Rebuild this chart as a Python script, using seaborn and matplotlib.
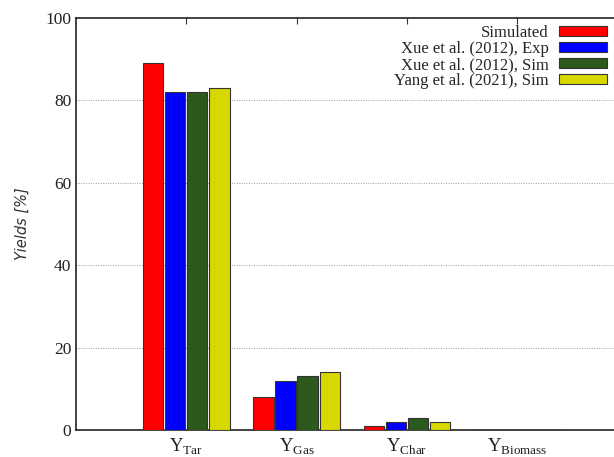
import matplotlib
matplotlib.use("Agg")
import matplotlib.pyplot as plt
import seaborn as sns
import pandas as pd

categories = [r"$\mathrm{Y}_{\mathrm{Tar}}$", r"$\mathrm{Y}_{\mathrm{Gas}}$",
              r"$\mathrm{Y}_{\mathrm{Char}}$", r"$\mathrm{Y}_{\mathrm{Biomass}}$"]
series = ["Simulated", "Xue et al. (2012), Exp", "Xue et al. (2012), Sim", "Yang et al. (2021), Sim"]
simulated = [89, 8, 1, 0]
xue_exp = [82, 12, 2, 0]
xue_sim = [82, 13, 3, 0]
yang_sim = [83, 14, 2, 0]
colors = ["#ff0000", "#0000ff", "#2b5a1c", "#d8d800"]

rows = []
for name, vals in zip(series, [simulated, xue_exp, xue_sim, yang_sim]):
    for cat, v in zip(categories, vals):
        rows.append({"cat": cat, "series": name, "value": v})
df = pd.DataFrame(rows)

sns.set_style("white")
plt.rcParams["font.family"] = ["Liberation Serif", "DejaVu Serif"]
plt.rcParams["mathtext.fontset"] = "custom"
plt.rcParams["mathtext.rm"] = "Liberation Serif"

fig = plt.figure(figsize=(6.14, 4.57), dpi=100)
ax = fig.add_axes([76 / 614, 27 / 457, 5 * 110.3 / 614, 412 / 457])

sns.barplot(data=df, x="cat", y="value", hue="series", palette=colors,
            order=categories, hue_order=series, width=0.8, gap=0.08,
            saturation=1, edgecolor="#333333", linewidth=0.8, ax=ax,
            legend=True, zorder=3)

ax.set_xlim(-1, 4)
ax.set_ylim(0, 100)
ax.set_yticks([0, 20, 40, 60, 80, 100])
for y in [20, 40, 60, 80]:
    ax.axhline(y, color="#999999", linestyle=(0, (1, 1.5)), linewidth=0.7, zorder=1)

ax.tick_params(axis="both", direction="in", top=True, right=True, length=4,
               width=0.8, color="#333333", labelsize=12.5, labelcolor="#222222")
ax.tick_params(axis="x", labelsize=13.5, pad=5)
ax.set_xlabel("")
ax.set_ylabel("Yields [%]", fontsize=10.5, fontstyle="italic",
              family=["DejaVu Sans"], color="#333333", labelpad=11)
for s in ax.spines.values():
    s.set_color("#222222")
    s.set_linewidth(1.2)

handles, labels = ax.get_legend_handles_labels()
ax.legend(handles, labels, loc="upper right", bbox_to_anchor=(607 / 614, 1 - 25 / 457),
          bbox_transform=fig.transFigure, frameon=False, markerfirst=False,
          fontsize=12, handlelength=2.9, handleheight=0.55, labelspacing=0.0,
          handletextpad=0.6, borderaxespad=0, borderpad=0)

fig.savefig("out.png", dpi=100)
